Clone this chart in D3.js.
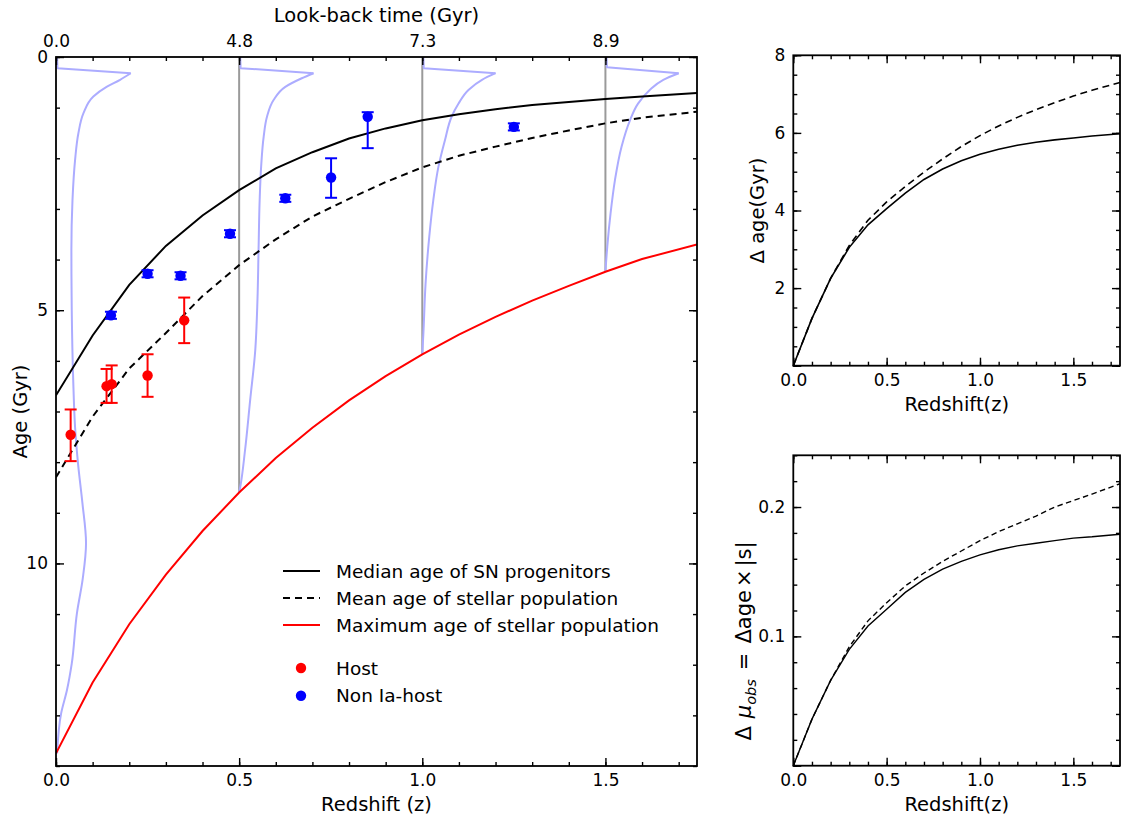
<!DOCTYPE html>
<html><head><meta charset="utf-8">
<script src="https://cdn.jsdelivr.net/npm/d3@7"></script>
<style>
body{margin:0;background:#fff}
svg{display:block}
text{font-family:"DejaVu Sans",sans-serif;fill:#000}
</style>
</head><body>
<svg id="c" width="1121" height="818"></svg>
<script>
// ---------- data ----------
const zGrid      = [0,0.1,0.2,0.3,0.4,0.5,0.6,0.7,0.8,0.9,1.0,1.1,1.2,1.3,1.4,1.5,1.6,1.75];
const medianAge  = [6.68,5.5,4.5,3.73,3.13,2.63,2.2,1.88,1.61,1.41,1.25,1.13,1.03,0.95,0.89,0.83,0.78,0.71];
const meanAge    = [8.3,7.1,6.15,5.45,4.72,4.11,3.6,3.15,2.8,2.47,2.18,1.95,1.77,1.6,1.45,1.31,1.2,1.08];
const maxAge     = [13.75,12.35,11.2,10.22,9.36,8.6,7.92,7.32,6.78,6.3,5.87,5.48,5.13,4.81,4.52,4.24,3.99,3.7];

const hostZ      = [0.04,0.138,0.152,0.25,0.35];
const hostAge    = [7.46,6.50,6.46,6.29,5.20];
const hostErrLo  = [0.50,0.34,0.37,0.42,0.45];
const hostErrHi  = [0.52,0.33,0.37,0.42,0.45];

const nonZ       = [0.15,0.25,0.34,0.475,0.626,0.751,0.851,1.25];
const nonAge     = [5.10,4.28,4.32,3.49,2.79,2.38,1.18,1.38];
const nonErrLo   = [0.07,0.07,0.07,0.07,0.07,0.38,0.09,0.07];
const nonErrHi   = [0.07,0.07,0.07,0.07,0.07,0.40,0.62,0.07];

// age distributions of progenitors drawn at each redshift (offset in redshift units)
const distZ    = [0, 0.5, 1.0, 1.5];
const distAge0 = [0,0.22,0.32,0.45,0.59,0.78,1.11,1.51,2.04,2.83,3.81,5.0,6.38,7.3,8.02,8.8,9.6,10.3,10.99,11.98,12.5,12.96,13.75];
const distOff0 = [0.003,0.004,0.204,0.175,0.138,0.102,0.075,0.061,0.052,0.045,0.042,0.043,0.047,0.052,0.060,0.072,0.082,0.073,0.057,0.043,0.030,0.014,0.003];
const distAge1 = [0,0.22,0.32,0.42,0.59,0.85,1.18,1.57,2.17,2.83,3.81,4.8,5.79,6.78,7.77,8.49,8.6];
const distOff1 = [0.003,0.004,0.203,0.171,0.126,0.094,0.076,0.067,0.060,0.056,0.053,0.050,0.044,0.030,0.016,0.003,0.0];
const distAge2 = [0,0.22,0.32,0.45,0.65,0.92,1.18,1.64,2.17,2.83,3.55,4.47,5.46,5.87];
const distOff2 = [0.003,0.004,0.200,0.163,0.126,0.099,0.080,0.062,0.044,0.030,0.019,0.009,0.003,0.0];
const distAge3 = [0,0.2,0.32,0.45,0.65,0.92,1.25,1.77,2.43,3.09,3.75,4.23];
const distOff3 = [0.003,0.004,0.200,0.158,0.121,0.089,0.067,0.044,0.026,0.014,0.005,0.0];

const topTickLabels = ["0.0","4.8","7.3","8.9"];
const mainXMajor = [0,0.5,1.0,1.5];
const mainYMajor = [0,5,10];

// right panels
const deltaAgeMedian = [0,1.22,2.25,3.05,3.63,4.05,4.45,4.8,5.07,5.28,5.45,5.58,5.68,5.76,5.82,5.87,5.92,5.98];
const deltaAgeMean   = [0,1.22,2.25,3.1,3.75,4.22,4.62,4.99,5.33,5.65,5.93,6.18,6.4,6.6,6.78,6.95,7.1,7.3];
const deltaMuMedian  = [0,0.036,0.066,0.09,0.108,0.121,0.134,0.144,0.152,0.158,0.163,0.167,0.170,0.172,0.174,0.176,0.177,0.179];
const deltaMuMean    = [0,0.036,0.066,0.092,0.112,0.126,0.139,0.149,0.158,0.166,0.174,0.181,0.187,0.193,0.2,0.205,0.21,0.218];

const legendLines = ["Median age of SN progenitors","Mean age of stellar population","Maximum age of stellar population"];
const legendPoints = ["Host","Non Ia-host"];

// ---------- helpers ----------
const svg = d3.select("#c");
const TICK_FS = 17, LABEL_FS = 19.5;

function range(a,b,s){const r=[];for(let v=a;v<=b+1e-9;v+=s)r.push(+v.toFixed(4));return r;}

function drawAxes(g, x, y, c){
  const [xl,xr] = x.range(), [yb,yt] = y.range();
  const style = sel => { sel.select(".domain").remove();
    sel.selectAll(".tick line").attr("stroke","#000").attr("stroke-width",1.4);
    sel.selectAll(".tick text").attr("font-size",TICK_FS).attr("font-family","DejaVu Sans").attr("fill","#000"); };
  // minor
  g.append("g").attr("transform",`translate(0,${yb})`).call(d3.axisBottom(x).tickValues(c.xMinor).tickSizeInner(-4).tickSizeOuter(0).tickFormat("")).call(style);
  g.append("g").attr("transform",`translate(0,${yt})`).call(d3.axisTop(x).tickValues(c.xMinor).tickSizeInner(-4).tickSizeOuter(0).tickFormat("")).call(style);
  g.append("g").attr("transform",`translate(${xl},0)`).call(d3.axisLeft(y).tickValues(c.yMinor).tickSizeInner(-4).tickSizeOuter(0).tickFormat("")).call(style);
  g.append("g").attr("transform",`translate(${xr},0)`).call(d3.axisRight(y).tickValues(c.yMinor).tickSizeInner(-4).tickSizeOuter(0).tickFormat("")).call(style);
  // major
  g.append("g").attr("transform",`translate(0,${yb})`).call(d3.axisBottom(x).tickValues(c.xMajor).tickSizeInner(-8).tickSizeOuter(0).tickPadding(8).tickFormat(d3.format(".1f"))).call(style);
  g.append("g").attr("transform",`translate(0,${yt})`).call(d3.axisTop(x).tickValues(c.xMajorTop||c.xMajor).tickSizeInner(-8).tickSizeOuter(0).tickPadding(10).tickFormat(c.topFormat||"")).call(style);
  g.append("g").attr("transform",`translate(${xl},0)`).call(d3.axisLeft(y).tickValues(c.yMajor).tickSizeInner(-8).tickSizeOuter(0).tickPadding(8).tickFormat(c.yFormat)).call(style);
  g.append("g").attr("transform",`translate(${xr},0)`).call(d3.axisRight(y).tickValues(c.yMajor).tickSizeInner(-8).tickSizeOuter(0).tickFormat("")).call(style);
  g.append("rect").attr("x",xl).attr("y",yt).attr("width",xr-xl).attr("height",yb-yt)
    .attr("fill","none").attr("stroke","#000").attr("stroke-width",1.8);
}

// ---------- main panel ----------
const x = d3.scaleLinear().domain([0,1.75]).range([56,697]);
const yM = d3.scaleLinear().domain([0,14]).range([57,766]);   // age 0 at top
const main = svg.append("g");
svg.append("clipPath").attr("id","mclip").append("rect").attr("x",56).attr("y",57).attr("width",641).attr("height",709);
const plot = main.append("g").attr("clip-path","url(#mclip)");

// grey vertical lines at distribution redshifts (z>0)
distZ.forEach(z => {
  if (z === 0) return;
  const i = zGrid.indexOf(z);
  plot.append("line").attr("x1",x(z)).attr("x2",x(z)).attr("y1",yM(0)).attr("y2",yM(maxAge[i]))
    .attr("stroke","#9a9a9a").attr("stroke-width",2);
});

// distributions
const distAges = [distAge0,distAge1,distAge2,distAge3];
const distOffs = [distOff0,distOff1,distOff2,distOff3];
distZ.forEach((z,k) => {
  const pts = distAges[k].map((a,i)=>[x(z+distOffs[k][i]), yM(a)]);
  const rise = d3.line().curve(d3.curveLinear)(pts.slice(0,3));
  const fall = d3.line().curve(d3.curveMonotoneY)(pts.slice(2));
  [rise,fall].forEach(d => plot.append("path").attr("d",d).attr("fill","none")
    .attr("stroke","#acacff").attr("stroke-width",2).attr("stroke-linejoin","round"));
});

// model lines
const mline = arr => d3.line().x((d,i)=>x(zGrid[i])).y(d=>yM(d))(arr);
plot.append("path").attr("d",mline(maxAge)).attr("fill","none").attr("stroke","#ff0000").attr("stroke-width",2);
plot.append("path").attr("d",mline(meanAge)).attr("fill","none").attr("stroke","#000").attr("stroke-width",2).attr("stroke-dasharray","7,5");
plot.append("path").attr("d",mline(medianAge)).attr("fill","none").attr("stroke","#000").attr("stroke-width",2);

// points with error bars
function errPts(zs, ages, lo, hi, col){
  zs.forEach((z,i)=>{
    const px = x(z), yt = yM(ages[i]-lo[i]), yb = yM(ages[i]+hi[i]);
    plot.append("line").attr("x1",px).attr("x2",px).attr("y1",yt).attr("y2",yb).attr("stroke",col).attr("stroke-width",2);
    [yt,yb].forEach(v=>plot.append("line").attr("x1",px-6).attr("x2",px+6).attr("y1",v).attr("y2",v).attr("stroke",col).attr("stroke-width",2));
    plot.append("circle").attr("cx",px).attr("cy",yM(ages[i])).attr("r",5.2).attr("fill",col);
  });
}
errPts(hostZ,hostAge,hostErrLo,hostErrHi,"#ff0000");
errPts(nonZ,nonAge,nonErrLo,nonErrHi,"#0000ff");

drawAxes(main, x, yM.copy().domain([14,0]).range([766,57]), {
  xMinor: range(0,1.7,0.1), xMajor: mainXMajor,
  xMajorTop: mainXMajor, topFormat: (d,i)=>topTickLabels[i],
  yMinor: range(0,14,1), yMajor: mainYMajor, yFormat: d3.format("d")
});

main.append("text").attr("x",376.5).attr("y",811).attr("text-anchor","middle").attr("font-size",LABEL_FS).text("Redshift (z)");
main.append("text").attr("x",376.5).attr("y",22).attr("text-anchor","middle").attr("font-size",LABEL_FS).text("Look-back time (Gyr)");
main.append("text").attr("transform","translate(26.5,411.5) rotate(-90)").attr("text-anchor","middle").attr("font-size",LABEL_FS).text("Age (Gyr)");

// legend
const LEG_FS = 18.5;
const legStyles = [{c:"#000",d:null},{c:"#000",d:"7,5"},{c:"#ff0000",d:null}];
legendLines.forEach((t,i)=>{
  const yy = 571 + i*27;
  const l = main.append("line").attr("x1",283).attr("x2",320).attr("y1",yy).attr("y2",yy).attr("stroke",legStyles[i].c).attr("stroke-width",2);
  if (legStyles[i].d) l.attr("stroke-dasharray",legStyles[i].d);
  main.append("text").attr("x",336).attr("y",yy+6.5).attr("font-size",LEG_FS).text(t);
});
const ptCols = ["#ff0000","#0000ff"];
legendPoints.forEach((t,i)=>{
  const yy = 668 + i*27.7;
  main.append("circle").attr("cx",301).attr("cy",yy).attr("r",5.2).attr("fill",ptCols[i]);
  main.append("text").attr("x",336).attr("y",yy+6.5).attr("font-size",LEG_FS).text(t);
});

// ---------- right panels ----------
const xr = d3.scaleLinear().domain([0,1.75]).range([793.3,1120]);
const rline = (sc, arr) => d3.line().x((d,i)=>xr(zGrid[i])).y(d=>sc(d))(arr);

// top right
const yA = d3.scaleLinear().domain([0,8]).range([365.7,55.3]);
const gA = svg.append("g");
gA.append("path").attr("d",rline(yA,deltaAgeMean)).attr("fill","none").attr("stroke","#000").attr("stroke-width",1.6).attr("stroke-dasharray","7,4.5");
gA.append("path").attr("d",rline(yA,deltaAgeMedian)).attr("fill","none").attr("stroke","#000").attr("stroke-width",1.6);
drawAxes(gA, xr, yA, {
  xMinor: range(0,1.7,0.1), xMajor: [0,0.5,1.0,1.5],
  yMinor: range(0,8,0.5), yMajor: [0,2,4,6,8], yFormat: d=> d===0?"":d3.format("d")(d)
});
gA.append("text").attr("x",956.7).attr("y",411).attr("text-anchor","middle").attr("font-size",LABEL_FS).text("Redshift(z)");
gA.append("text").attr("transform","translate(764,210.5) rotate(-90)").attr("text-anchor","middle").attr("font-size",LABEL_FS).text("Δ age(Gyr)");

// bottom right
const yB = d3.scaleLinear().domain([0,0.24]).range([765.7,455.3]);
const gB = svg.append("g");
gB.append("path").attr("d",rline(yB,deltaMuMean)).attr("fill","none").attr("stroke","#000").attr("stroke-width",1.4).attr("stroke-dasharray","5.5,3.5");
gB.append("path").attr("d",rline(yB,deltaMuMedian)).attr("fill","none").attr("stroke","#000").attr("stroke-width",1.4);
drawAxes(gB, xr, yB, {
  xMinor: range(0,1.7,0.1), xMajor: [0,0.5,1.0,1.5],
  yMinor: range(0,0.24,0.02), yMajor: [0,0.1,0.2], yFormat: d=> d===0?"":d3.format(".1f")(d)
});
gB.append("text").attr("x",956.7).attr("y",811).attr("text-anchor","middle").attr("font-size",LABEL_FS).text("Redshift(z)");
const lab = gB.append("text").attr("transform","translate(751,641) rotate(-90)").attr("text-anchor","middle").attr("font-size",21);
lab.append("tspan").text("Δ");
lab.append("tspan").attr("dx",8).attr("font-style","italic").text("μ");
lab.append("tspan").attr("font-style","italic").attr("font-size",14.5).attr("dy",4.5).text("obs");
lab.append("tspan").attr("dy",-4.5).attr("dx",9).text("=");
lab.append("tspan").attr("dx",9).text("Δage");
lab.append("tspan").attr("dx",3).text("×");
lab.append("tspan").attr("dx",3).text("|s|");
</script>
</body></html>
